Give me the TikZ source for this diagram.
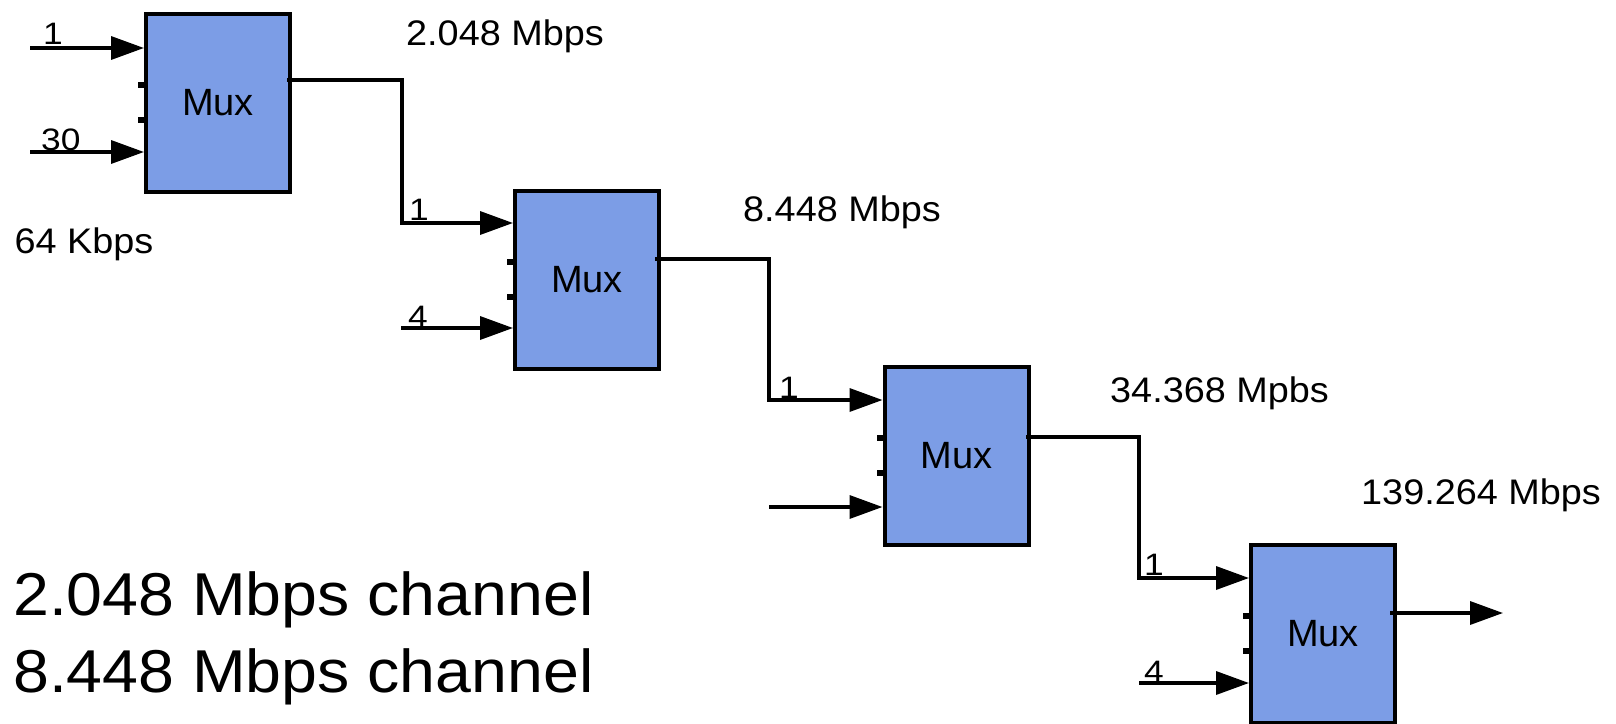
\documentclass[tikz,border=0pt]{standalone}
\usepackage{fontspec}
\setmainfont{Liberation Sans}
\newfontfamily\widesans[FakeStretch=1.065]{Liberation Sans}
\newfontfamily\widersans[FakeStretch=1.14]{Liberation Sans}
\usetikzlibrary{arrows.meta,calc}
\definecolor{muxblue}{RGB}{124,157,230}
\begin{document}
\begin{tikzpicture}[x=1pt,y=-1pt,
  mux/.style={draw=black,line width=4pt,fill=muxblue,minimum width=144pt,minimum height=178pt,inner sep=0pt,font=\fontsize{38}{38}\selectfont},
  conn/.style={line width=3.5pt,line join=miter,-{Triangle[length=33pt,width=23pt]}},
  lab/.style={anchor=base west,inner sep=0pt,font=\widersans\fontsize{31}{31}\selectfont},
  rate/.style={anchor=base west,inner sep=0pt,font=\widesans\fontsize{35.5}{35.5}\selectfont},
  big/.style={anchor=base west,inner sep=0pt,font=\widesans\fontsize{60.5}{60.5}\selectfont}]
\useasboundingbox (0,0) rectangle (1616,723);

% boxes
\node[mux] (b1) at (218,102.5) {Mux};
\node[mux] (b2) at (587,279.5) {Mux};
\node[mux] (b3) at (956.5,455.5) {Mux};
\node[mux] (b4) at (1323,634) {Mux};

% port ticks
\foreach \b in {b1,b2,b3,b4}{
  \fill ($(\b.west)+(-6,-21)$) rectangle ++(7,6);
  \fill ($(\b.west)+(-6,14)$) rectangle ++(7,6);
}

% free ends and corners
\coordinate (i1a) at (30,48);
\coordinate (i1b) at (30,152);
\coordinate (i2b) at (401,328);
\coordinate (i3b) at (769,507);
\coordinate (i4b) at (1139,683);
\coordinate (o1) at (287,80);
\coordinate (o2) at (655,259);
\coordinate (o3) at (1026,437);
\coordinate (o4) at (1390,613);
\coordinate (j1) at (402,223);
\coordinate (j2) at (769,400);
\coordinate (j3) at (1139,578);
\coordinate (e4) at (1503,613);

% connectors
\draw[conn] (i1a) -- (i1a -| b1.west);
\draw[conn] (i1b) -- (i1b -| b1.west);
\draw[conn] (o1) -| (j1) -- (j1 -| b2.west);
\draw[conn] (i2b) -- (i2b -| b2.west);
\draw[conn] (o2) -| (j2) -- (j2 -| b3.west);
\draw[conn] (i3b) -- (i3b -| b3.west);
\draw[conn] (o3) -| (j3) -- (j3 -| b4.west);
\draw[conn] (i4b) -- (i4b -| b4.west);
\draw[conn] (o4) -- (e4);

% input labels
\node[lab] (l1a) at (43,44) {1};
\node[lab] (l1b) at (41,150) {30};
\node[lab] (l2a) at (409,220) {1};
\node[lab] (l2b) at (408,327) {4};
\node[lab] (l3a) at (779,398) {1};
\node[lab] (l4a) at (1144,575) {1};
\node[lab] (l4b) at (1144,682) {4};

% rate labels
\node[rate] (r0) at (14.5,253) {64 Kbps};
\node[rate] (r1) at (406,45) {2.048 Mbps};
\node[rate] (r2) at (743,221) {8.448 Mbps};
\node[rate] (r3) at (1110,402) {34.368 Mpbs};
\node[rate] (r4) at (1361,504) {139.264 Mbps};

% big captions
\node[big] (c1) at (13,615) {2.048 Mbps channel};
\node[big] (c2) at (13,692) {8.448 Mbps channel};
\end{tikzpicture}
\end{document}
